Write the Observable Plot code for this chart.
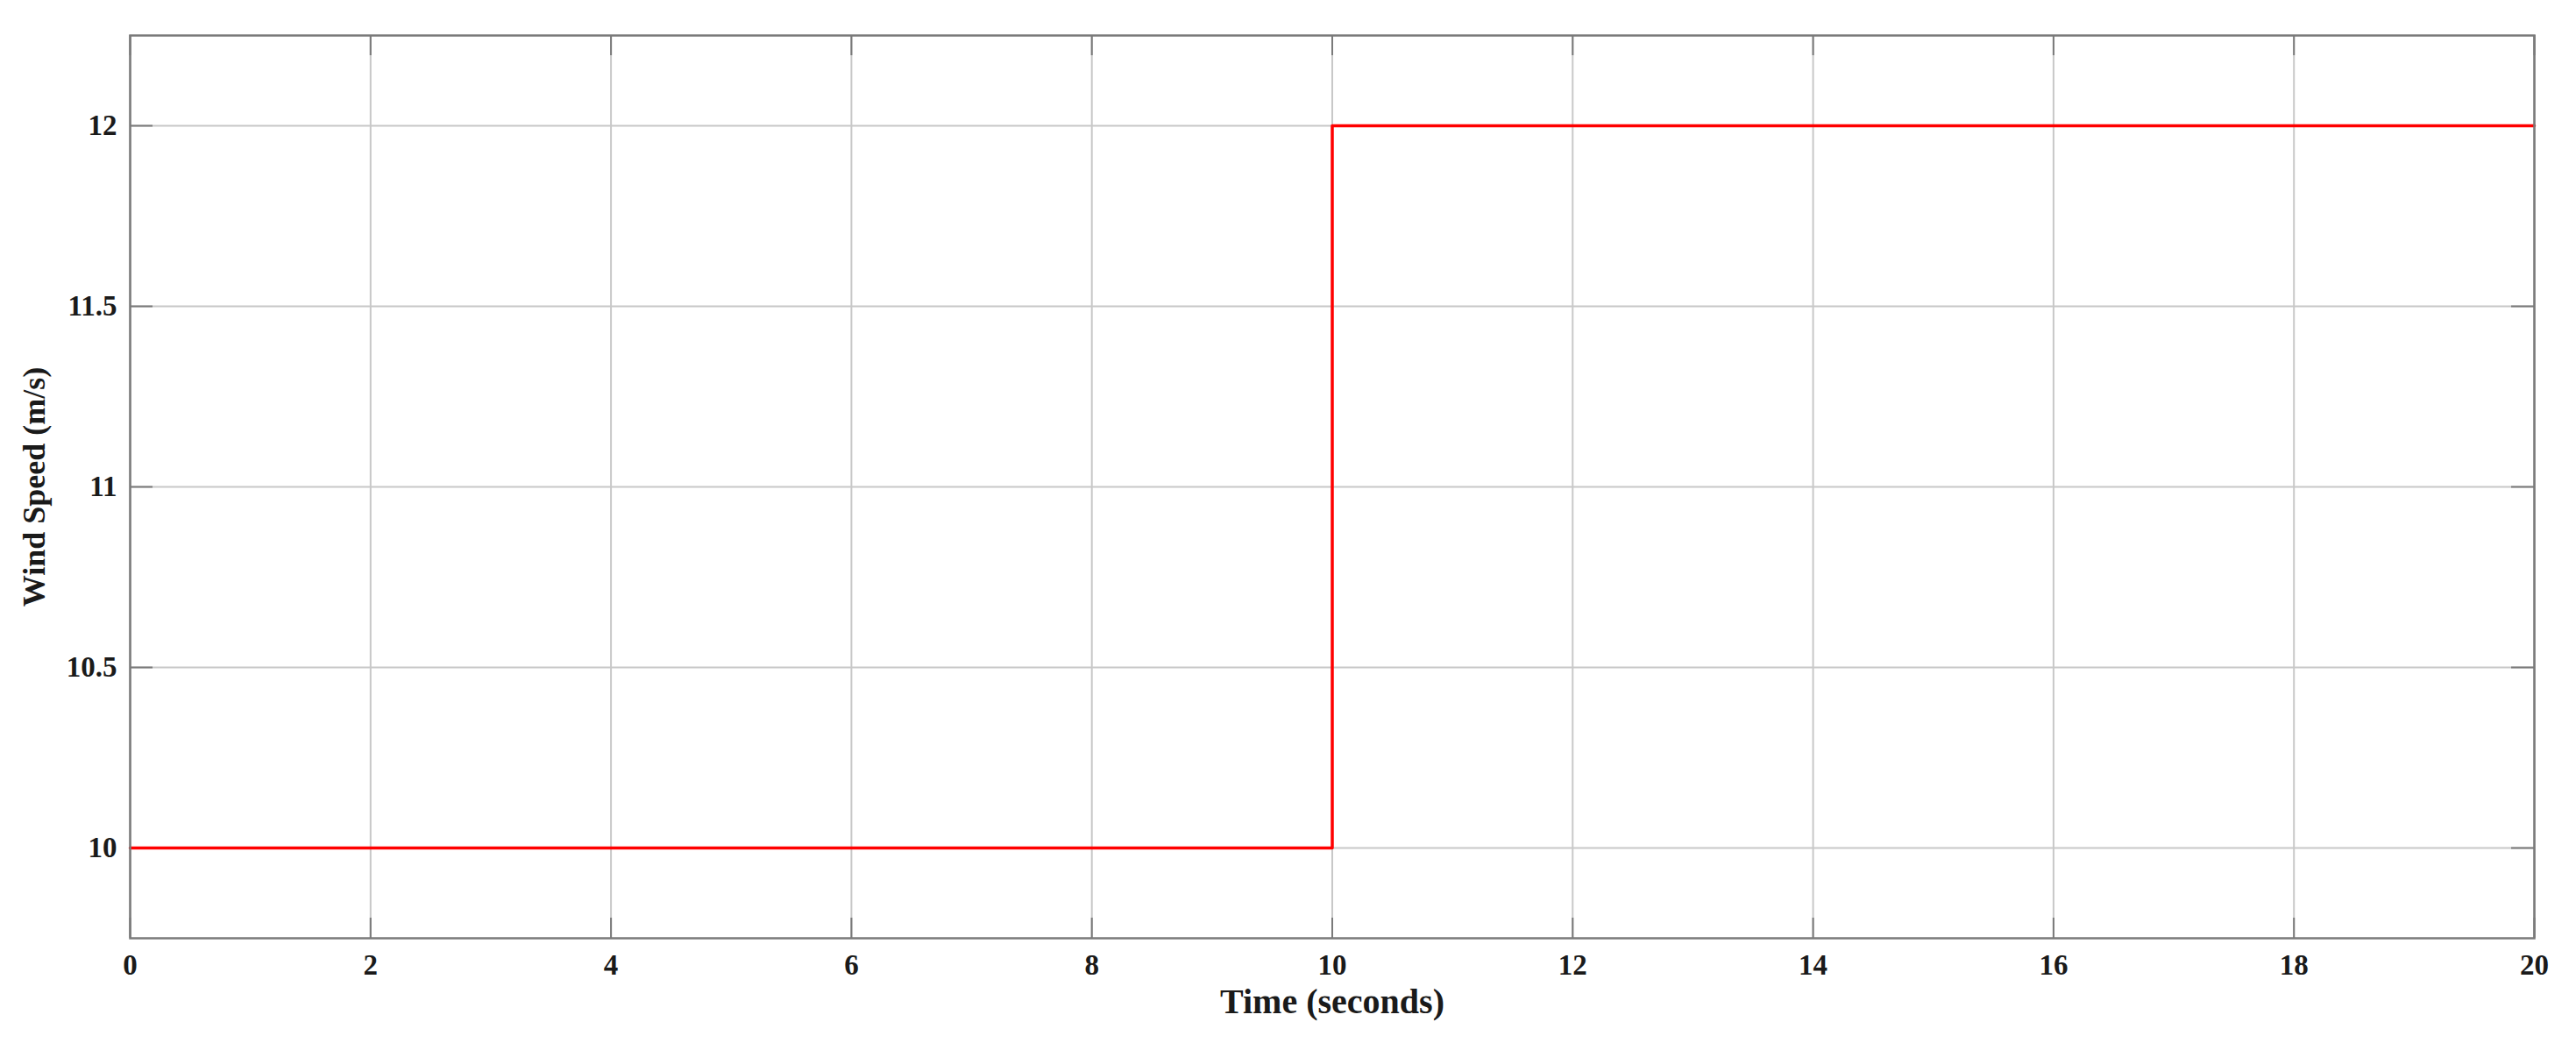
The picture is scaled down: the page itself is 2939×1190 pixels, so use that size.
<!DOCTYPE html>
<html>
<head>
<meta charset="utf-8">
<script src="https://cdn.jsdelivr.net/npm/d3@7"></script>
<script src="https://cdn.jsdelivr.net/npm/@observablehq/plot@0.6"></script>
<style>
  html, body { margin: 0; padding: 0; background: #fff; }
  #chart svg { display: block; }
</style>
</head>
<body>
<div id="chart"></div>
<script>
const time = [0, 10, 20];
const windSpeed = [10, 12, 12];
const xTicks = [0, 2, 4, 6, 8, 10, 12, 14, 16, 18, 20];
const yTicks = [10, 10.5, 11, 11.5, 12];

const data = time.map((t, i) => ({t, v: windSpeed[i]}));

const W = 2939, H = 1190;
const mL = 148, mR = 48, mT = 40, mB = 120;
const pw = W - mL - mR, ph = H - mT - mB;
const font = "'Liberation Serif', 'Times New Roman', serif";
const fmt = d => String(d);

const chart = Plot.plot({
  width: W,
  height: H,
  marginLeft: mL, marginRight: mR, marginTop: mT, marginBottom: mB,
  style: {fontFamily: font, fontWeight: "bold", fontSize: "33px", color: "#1a1a1a", background: "#fff"},
  x: {domain: [0, 20]},
  y: {domain: [9.75, 12.25]},
  marks: [
    Plot.gridX(xTicks, {stroke: "#c8c8c8", strokeOpacity: 1, strokeWidth: 2}),
    Plot.gridY(yTicks, {stroke: "#c8c8c8", strokeOpacity: 1, strokeWidth: 2}),
    Plot.tickX(xTicks, {x: d => d, stroke: "#7a7a7a", strokeWidth: 2, insetTop: ph - 23}),
    Plot.tickX(xTicks, {x: d => d, stroke: "#7a7a7a", strokeWidth: 2, insetBottom: ph - 23}),
    Plot.tickY(yTicks, {y: d => d, stroke: "#7a7a7a", strokeWidth: 2, insetRight: pw - 26}),
    Plot.tickY(yTicks, {y: d => d, stroke: "#7a7a7a", strokeWidth: 2, insetLeft: pw - 26}),
    Plot.line(data, {x: "t", y: "v", curve: "step-after", stroke: "#ff0000", strokeWidth: 3.5}),
    Plot.frame({stroke: "#7a7a7a", strokeWidth: 2.5}),
    Plot.axisX(xTicks, {anchor: "bottom", tickSize: 0, tickPadding: 18, fontSize: 33, tickFormat: fmt, label: null}),
    Plot.axisX({anchor: "bottom", ticks: [], tickSize: 0, fontSize: 40,
      label: "Time (seconds)", labelAnchor: "center", labelArrow: "none", labelOffset: 85}),
    Plot.axisY(yTicks, {anchor: "left", tickSize: 0, tickPadding: 15, fontSize: 33, tickFormat: fmt, label: null}),
    Plot.axisY({anchor: "left", ticks: [], tickSize: 0, fontSize: 36,
      label: "Wind Speed (m/s)", labelAnchor: "center", labelArrow: "none", labelOffset: 123})
  ]
});
document.getElementById("chart").appendChild(chart);
</script>
</body>
</html>
